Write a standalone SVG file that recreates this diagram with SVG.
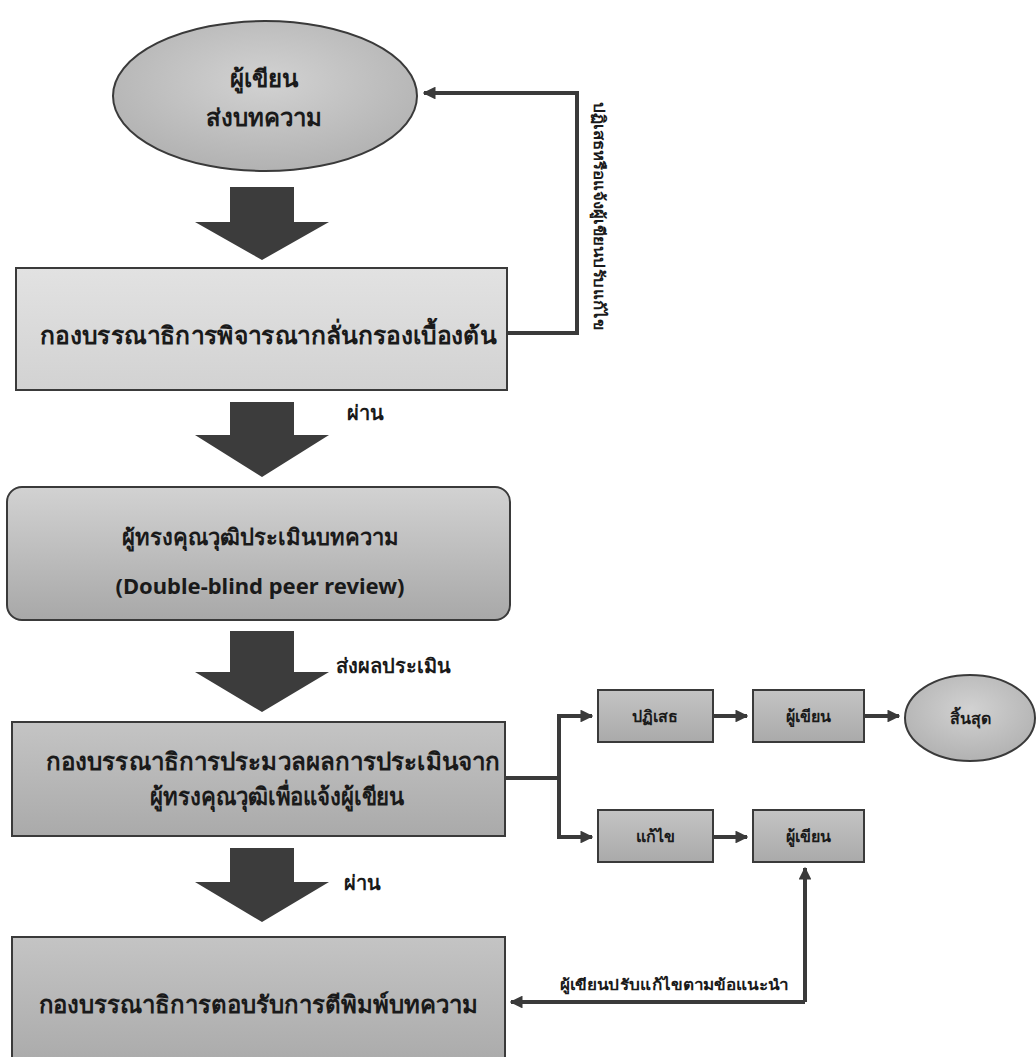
<svg xmlns="http://www.w3.org/2000/svg" width="1036" height="1057" viewBox="0 0 1036 1057">
<style>
.t{font-family:"Noto Sans","DejaVu Sans",sans-serif;font-weight:bold;fill:#1a1a1a;text-anchor:middle}
.big{font-size:24px}
.mid{font-size:22px}
.lab{font-size:20px;text-anchor:start}
.sm{font-size:16px}
.box{stroke:#3a3a3a;stroke-width:2}
.con{fill:none;stroke:#3a3a3a;stroke-width:4}
.bar{fill:#3c3c3c}
</style>
<defs>
<linearGradient id="gLight" x1="0" y1="0" x2="0" y2="1"><stop offset="0" stop-color="#e2e2e2"/><stop offset="1" stop-color="#d2d2d2"/></linearGradient>
<linearGradient id="gMid" x1="0" y1="0" x2="0" y2="1"><stop offset="0" stop-color="#d2d2d2"/><stop offset="1" stop-color="#a8a8a8"/></linearGradient>
<linearGradient id="gDark" x1="0" y1="0" x2="0" y2="1"><stop offset="0" stop-color="#c4c4c4"/><stop offset="1" stop-color="#aaaaaa"/></linearGradient>
<radialGradient id="gEll" cx="0.5" cy="0.4" r="0.6"><stop offset="0" stop-color="#d2d2d2"/><stop offset="1" stop-color="#b2b2b2"/></radialGradient>
<marker id="ah" viewBox="0 0 10 10" refX="9" refY="5" markerWidth="3.2" markerHeight="3.2" orient="auto"><path d="M0,0 L10,5 L0,10 z" fill="#3a3a3a"/></marker>
</defs>

<g id="connectors">
<polyline class="con" points="507,333 577,333 577,93 424,93" marker-end="url(#ah)"/>
<polyline class="con" points="505,778 559,778 559,716 592,716" marker-end="url(#ah)"/>
<polyline class="con" points="559,778 559,837 592,837" marker-end="url(#ah)"/>
<line class="con" x1="713" y1="716" x2="747" y2="716" marker-end="url(#ah)"/>
<line class="con" x1="864" y1="716" x2="899" y2="716" marker-end="url(#ah)"/>
<line class="con" x1="713" y1="837" x2="747" y2="837" marker-end="url(#ah)"/>
<polyline class="con" points="805,1002 805,868" marker-end="url(#ah)"/>
<polyline class="con" points="805,1002 511,1002" marker-end="url(#ah)"/>
<path class="bar" d="M230,187 H294 V222 H329 L262,260 L195,222 H230 Z"/>
<path class="bar" d="M230,402 H294 V435 H329 L262,477 L195,435 H230 Z"/>
<path class="bar" d="M230,631 H294 V672 H329 L262,712 L195,672 H230 Z"/>
<path class="bar" d="M230,848 H294 V882 H329 L262,922 L195,882 H230 Z"/>
<text class="t" transform="translate(594,216) rotate(90)" style="font-size:15px" textLength="228" lengthAdjust="spacingAndGlyphs">ปฏิเสธหรือแจ้งผู้เขียนปรับแก้ไข</text>
<text class="t lab" x="347" y="420">ผ่าน</text>
<text class="t lab" x="336" y="673">ส่งผลประเมิน</text>
<text class="t lab" x="344" y="890">ผ่าน</text>
<text class="t" x="674" y="990" style="font-size:15px" textLength="229" lengthAdjust="spacingAndGlyphs">ผู้เขียนปรับแก้ไขตามข้อแนะนำ</text>
</g>

<g id="n-start">
<ellipse class="box" cx="265" cy="96" rx="152" ry="75" fill="url(#gEll)"/>
<text class="t big" x="264" y="87">ผู้เขียน</text>
<text class="t big" x="264" y="126">ส่งบทความ</text>
</g>

<g id="n-screen">
<rect class="box" x="16" y="268" width="491" height="122" fill="url(#gLight)"/>
<text class="t big" x="268" y="344" textLength="456" lengthAdjust="spacingAndGlyphs">กองบรรณาธิการพิจารณากลั่นกรองเบื้องต้น</text>
</g>

<g id="n-review">
<rect class="box" x="7" y="487" width="503" height="133" rx="15" fill="url(#gMid)"/>
<text class="t mid" x="260" y="545">ผู้ทรงคุณวุฒิประเมินบทความ</text>
<text class="t mid" x="260" y="594">(Double-blind peer review)</text>
</g>

<g id="n-process">
<rect class="box" x="12" y="722" width="493" height="114" fill="url(#gDark)"/>
<text class="t big" x="273" y="770" textLength="454" lengthAdjust="spacingAndGlyphs">กองบรรณาธิการประมวลผลการประเมินจาก</text>
<text class="t big" x="277" y="805" textLength="254" lengthAdjust="spacingAndGlyphs">ผู้ทรงคุณวุฒิเพื่อแจ้งผู้เขียน</text>
</g>

<g id="n-accept">
<rect class="box" x="12" y="937" width="493" height="130" fill="url(#gDark)"/>
<text class="t big" x="258" y="1013" textLength="439" lengthAdjust="spacingAndGlyphs">กองบรรณาธิการตอบรับการตีพิมพ์บทความ</text>
</g>

<g id="n-reject">
<rect class="box" x="598" y="690" width="115" height="52" fill="url(#gDark)"/>
<text class="t sm" x="655" y="722">ปฏิเสธ</text>
</g>

<g id="n-author1">
<rect class="box" x="753" y="690" width="111" height="52" fill="url(#gDark)"/>
<text class="t sm" x="808" y="722">ผู้เขียน</text>
</g>

<g id="n-end">
<ellipse class="box" cx="970" cy="718" rx="65" ry="43" fill="url(#gEll)"/>
<text class="t sm" x="970" y="724">สิ้นสุด</text>
</g>

<g id="n-revise">
<rect class="box" x="598" y="810" width="115" height="52" fill="url(#gDark)"/>
<text class="t sm" x="655" y="842">แก้ไข</text>
</g>

<g id="n-author2">
<rect class="box" x="753" y="810" width="111" height="52" fill="url(#gDark)"/>
<text class="t sm" x="808" y="842">ผู้เขียน</text>
</g>
</svg>
